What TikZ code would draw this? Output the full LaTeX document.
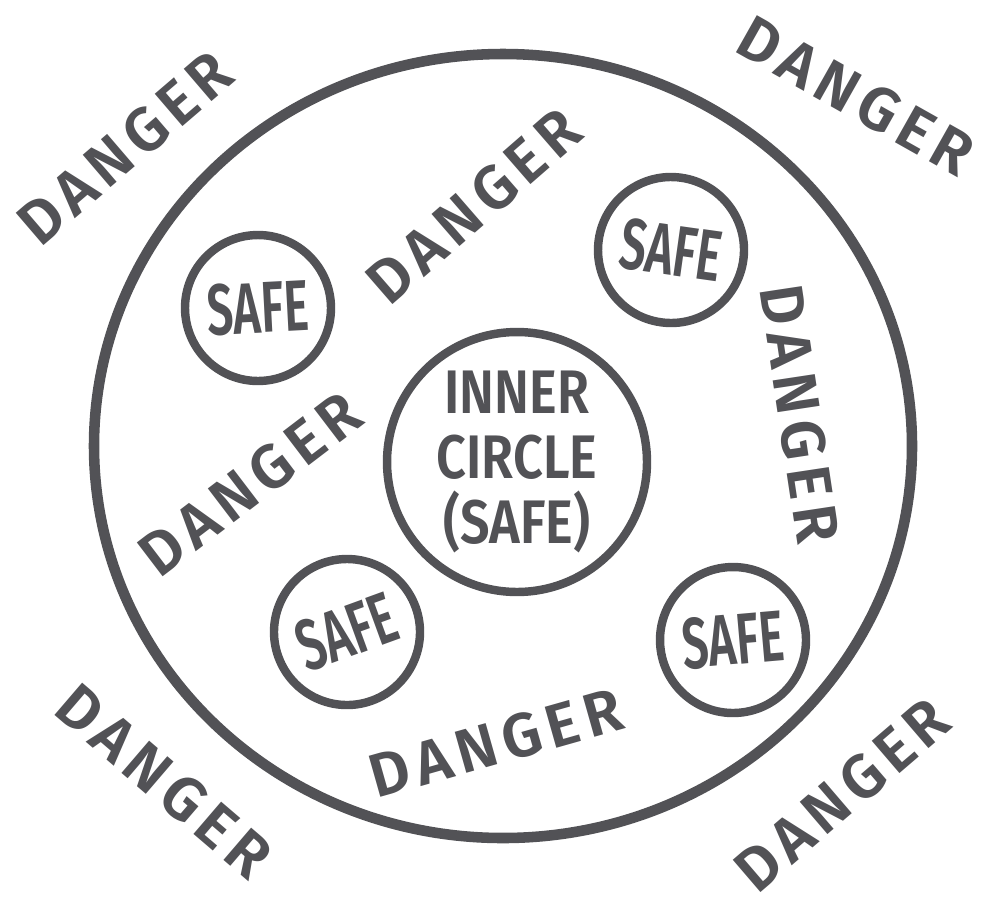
\documentclass[tikz,border=0pt]{standalone}
\usepackage{fontspec}
\setmainfont{Fira Sans}[BoldFont={Fira Sans SemiBold}]
\usepackage{xcolor}
\usepackage{tikz}
\usetikzlibrary{positioning}
\definecolor{ink}{RGB}{82,82,86}

\begin{document}
\begin{tikzpicture}[
    x=0.02cm, y=-0.02cm,
    ring/.style={draw=ink, line width=6pt},
    safe/.style={circle, draw=ink, line width=4.8pt, minimum size=2.92cm, inner sep=0pt, text=ink, font=\fontsize{41}{41}\selectfont\bfseries\addfontfeature{FakeStretch=0.65}},
    core/.style={circle, draw=ink, line width=4.8pt, minimum size=5.2cm, inner sep=0pt, text=ink, align=center, font=\fontsize{35}{37}\selectfont\bfseries\addfontfeature{FakeStretch=0.85}},
    danger/.style={text=ink, inner sep=0pt, font=\fontsize{35}{35}\selectfont\bfseries\addfontfeature{LetterSpace=11}}
]
\useasboundingbox (0,0) rectangle (982,903);

\draw[ring] (503,446) ellipse [x radius=409, y radius=392];

\node[core] (inner) at (517,462) {INNER\\CIRCLE\\(SAFE)};

\node[safe, rotate=3] (safeNW) at (258,308) {SAFE};
\node[safe, rotate=-8] (safeNE) at (671,250) {SAFE};
\node[safe, rotate=20] (safeSW) at (347,632) {SAFE};
\node[safe, rotate=5] (safeSE) at (733,640) {SAFE};

\node[danger, rotate=40.6] (outNW) at (125,148) {DANGER};
\node[danger, rotate=-29.4] (outNE) at (856,96) {DANGER};
\node[danger, rotate=-40.6] (outSW) at (164,781) {DANGER};
\node[danger, rotate=40.6] (outSE) at (842,795) {DANGER};

\node[danger, rotate=41] (midN) at (474,206) {DANGER};
\node[danger, rotate=-81.4] (midE) at (800,414) {DANGER};
\node[danger, rotate=37.3] (midW) at (250,484) {DANGER};
\node[danger, rotate=15.8] (midS) at (496,743) {DANGER};

\end{tikzpicture}
\end{document}
